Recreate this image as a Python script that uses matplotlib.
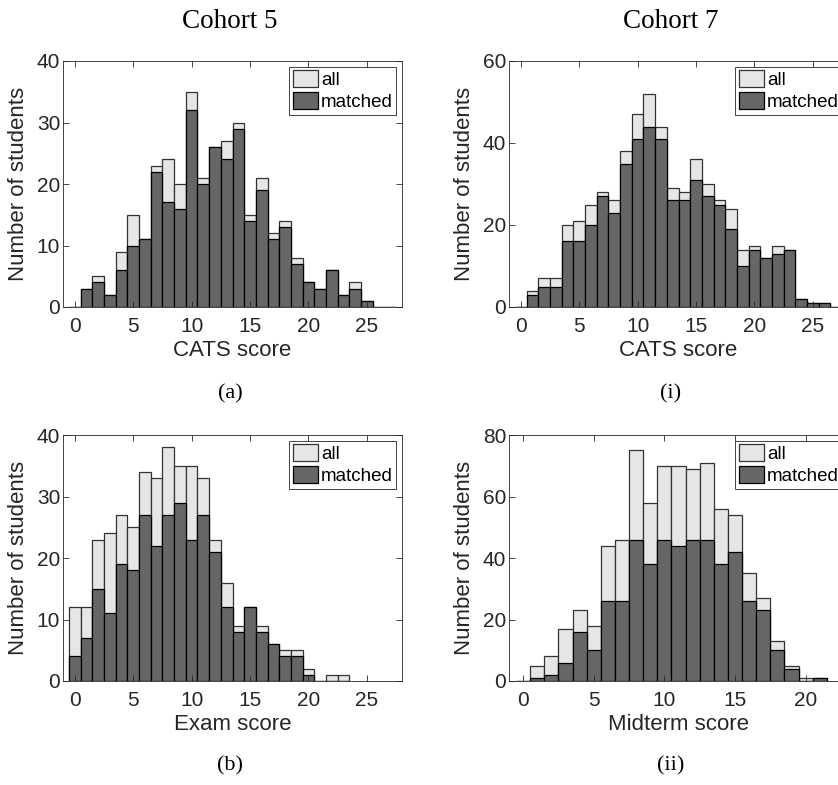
import matplotlib
matplotlib.use("Agg")
from matplotlib import pyplot as plt
from matplotlib.patches import Patch

# Cohort 5 CATS score, bins 0..27
cats5_all = [0, 3, 5, 2, 9, 15, 11, 23, 24, 20, 35, 21, 26, 27, 30, 15, 21, 12, 14, 8, 4, 3, 6, 2, 4, 1, 0, 0]
cats5_matched = [0, 3, 4, 2, 6, 10, 11, 22, 17, 16, 32, 20, 26, 24, 29, 14, 19, 11, 13, 7, 4, 3, 6, 2, 3, 1, 0, 0]

# Cohort 7 CATS score, bins 0..27
cats7_all = [0, 4, 7, 7, 20, 21, 25, 28, 26, 38, 47, 52, 44, 29, 28, 36, 30, 26, 24, 14, 15, 12, 15, 14, 2, 1, 1, 0]
cats7_matched = [0, 3, 5, 5, 16, 16, 20, 27, 23, 35, 41, 44, 41, 26, 26, 31, 27, 25, 19, 10, 14, 12, 13, 14, 2, 1, 1, 0]

# Cohort 5 exam score, bins 0..23
exam_all = [12, 12, 23, 24, 27, 25, 34, 33, 38, 35, 35, 33, 23, 16, 9, 12, 9, 6, 5, 5, 2, 0, 1, 1]
exam_matched = [4, 7, 15, 11, 19, 18, 27, 22, 27, 29, 23, 27, 21, 12, 8, 12, 8, 6, 4, 4, 1, 0, 0, 0]

# Cohort 7 midterm score, bins 0..21
mid_all = [0, 5, 8, 17, 23, 18, 44, 46, 75, 58, 70, 70, 69, 71, 56, 54, 35, 27, 13, 5, 1, 1]
mid_matched = [0, 1, 2, 6, 16, 10, 26, 26, 46, 38, 46, 44, 46, 46, 38, 42, 26, 23, 10, 4, 0, 1]

LIGHT = "#e6e6e6"
DARK = "#666666"
AXCOL = "#262626"

plt.rcParams["font.family"] = ["Liberation Sans", "DejaVu Sans"]

W, H = 838, 785
fig = plt.figure(figsize=(W / 100, H / 100), dpi=100)


def make_axes(left, top):
    return fig.add_axes([left / W, 1 - (top + 246) / H, 339 / W, 246 / H])


def draw_hist(ax, all_counts, matched_counts, xlim, yticks, xticks, xlabel):
    bins = list(range(len(all_counts)))
    ax.bar(bins, all_counts, width=1, color=LIGHT, edgecolor="#333333", linewidth=0.9)
    ax.bar(bins, matched_counts, width=1, color=DARK, edgecolor="black", linewidth=0.9)
    ax.set_xlim(*xlim)
    ax.set_ylim(0, yticks[-1])
    ax.set_yticks(yticks)
    ax.set_xticks(xticks)
    ax.tick_params(direction="in", top=True, right=True, length=4, width=0.6,
                   color=AXCOL, labelcolor=AXCOL, labelsize=15)
    ax.tick_params(axis="x", pad=7)
    ax.tick_params(axis="y", pad=2)
    for s in ax.spines.values():
        s.set_color(AXCOL)
        s.set_linewidth(0.6)
    ax.set_xlabel(xlabel, fontsize=16, color=AXCOL, labelpad=3)
    ax.set_ylabel("Number of students", fontsize=16, color=AXCOL, labelpad=6)
    handles = [Patch(facecolor=LIGHT, edgecolor="#333333", linewidth=0.9, label="all"),
               Patch(facecolor=DARK, edgecolor="black", linewidth=0.9, label="matched")]
    leg = ax.legend(handles=handles, loc="upper right", fontsize=13.5, fancybox=False,
                    framealpha=1, borderaxespad=0.3, borderpad=0.2, handlelength=1.35,
                    handleheight=1.0, handletextpad=0.15, labelspacing=0.15)
    leg.get_frame().set_edgecolor(AXCOL)
    leg.get_frame().set_linewidth(0.6)
    for t in leg.get_texts():
        t.set_color("black")


ax_a = make_axes(63, 61)
draw_hist(ax_a, cats5_all, cats5_matched, (-1, 28), [0, 10, 20, 30, 40], range(0, 30, 5), "CATS score")

ax_i = make_axes(509, 61)
draw_hist(ax_i, cats7_all, cats7_matched, (-1, 28), [0, 20, 40, 60], range(0, 30, 5), "CATS score")

ax_b = make_axes(63, 435)
draw_hist(ax_b, exam_all, exam_matched, (-1, 28), [0, 10, 20, 30, 40], range(0, 30, 5), "Exam score")

ax_ii = make_axes(509, 435)
draw_hist(ax_ii, mid_all, mid_matched, (-1, 23), [0, 20, 40, 60, 80], range(0, 25, 5), "Midterm score")

serif = ["Liberation Serif", "DejaVu Serif"]
fig.text(230 / W, 1 - 21 / H, "Cohort 5", ha="center", va="center", fontsize=19.5, family=serif)
fig.text(671 / W, 1 - 21 / H, "Cohort 7", ha="center", va="center", fontsize=19.5, family=serif)
fig.text(230 / W, 1 - 394 / H, "(a)", ha="center", va="center", fontsize=16, family=serif)
fig.text(671 / W, 1 - 394 / H, "(i)", ha="center", va="center", fontsize=16, family=serif)
fig.text(230 / W, 1 - 766 / H, "(b)", ha="center", va="center", fontsize=16, family=serif)
fig.text(671 / W, 1 - 766 / H, "(ii)", ha="center", va="center", fontsize=16, family=serif)

fig.savefig("out.png", dpi=100)
